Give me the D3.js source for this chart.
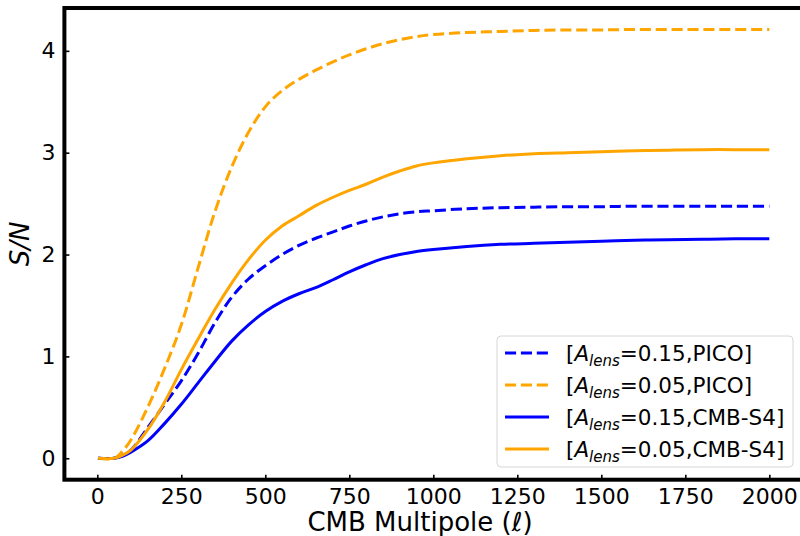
<!DOCTYPE html>
<html>
<head>
<meta charset="utf-8">
<script src="https://cdn.jsdelivr.net/npm/d3@7"></script>
<style>
  html, body { margin: 0; padding: 0; background: #ffffff; }
  svg { display: block; font-family: "DejaVu Sans", sans-serif; }
</style>
</head>
<body>
<svg id="chart" width="800" height="536"></svg>
<script>
// Multipole values at which the cumulative S/N was evaluated
const ell = [2, 50, 75, 100, 150, 200, 250, 300, 350, 400, 450, 500, 550, 600, 650, 700, 750,
             800, 850, 900, 950, 1000, 1100, 1200, 1300, 1400, 1500, 1600, 1700, 1800, 1900, 2000];

// Cumulative S/N for each configuration
const snPico015 = [0, 0, 0.03, 0.08, 0.30, 0.53, 0.76, 1.03, 1.33, 1.58, 1.76, 1.89, 2.00, 2.09, 2.16, 2.22, 2.28,
                   2.33, 2.37, 2.40, 2.42, 2.43, 2.45, 2.46, 2.465, 2.47, 2.47, 2.475, 2.475, 2.475, 2.475, 2.475];
const snPico005 = [0, 0, 0.07, 0.18, 0.50, 0.88, 1.31, 1.87, 2.42, 2.86, 3.20, 3.45, 3.61, 3.72, 3.81, 3.89, 3.96,
                   4.02, 4.07, 4.11, 4.14, 4.16, 4.18, 4.19, 4.20, 4.205, 4.205, 4.21, 4.21, 4.21, 4.21, 4.21];
const snS4015   = [0, 0, 0.02, 0.06, 0.17, 0.34, 0.53, 0.74, 0.95, 1.15, 1.31, 1.44, 1.54, 1.615, 1.675, 1.75, 1.83,
                   1.90, 1.96, 2.00, 2.03, 2.05, 2.08, 2.10, 2.11, 2.12, 2.13, 2.14, 2.145, 2.15, 2.155, 2.155];
const snS4005   = [0, 0, 0.03, 0.08, 0.28, 0.55, 0.87, 1.17, 1.46, 1.72, 1.95, 2.14, 2.28, 2.38, 2.48, 2.56, 2.63,
                   2.69, 2.76, 2.82, 2.87, 2.90, 2.94, 2.97, 2.99, 3.00, 3.01, 3.02, 3.025, 3.03, 3.03, 3.03];

const xTicks = [0, 250, 500, 750, 1000, 1250, 1500, 1750, 2000];
const yTicks = [0, 1, 2, 3, 4];

const seriesNames = ["0.15,PICO]", "0.05,PICO]", "0.15,CMB-S4]", "0.05,CMB-S4]"];
const seriesValues = [snPico015, snPico005, snS4015, snS4005];
const seriesColors = ["#0000ff", "#ffa500", "#0000ff", "#ffa500"];
const seriesDashed = [true, true, false, false];

const svg = d3.select("#chart");

// Data limits with 5% padding on each side
const xMin = 2, xMax = 2000, yMin = 0, yMax = 4.21;
const xPad = (xMax - xMin) * 0.05, yPad = (yMax - yMin) * 0.05;
const x = d3.scaleLinear().domain([xMin - xPad, xMax + xPad]).range([64.4, 802.9]);
const y = d3.scaleLinear().domain([yMin - yPad, yMax + yPad]).range([479.7, 8]);

const x0 = x.range()[0], x1 = x.range()[1];
const y0 = y.range()[0], y1 = y.range()[1];

// Curves
const line = d3.line()
  .x(d => x(d[0]))
  .y(d => y(d[1]))
  .curve(d3.curveCatmullRom.alpha(0.5));

const plot = svg.append("g");
seriesValues.forEach((vals, i) => {
  plot.append("path")
    .datum(ell.map((l, j) => [l, vals[j]]))
    .attr("d", line)
    .attr("fill", "none")
    .attr("stroke", seriesColors[i])
    .attr("stroke-width", 3)
    .attr("stroke-dasharray", seriesDashed[i] ? "11.1,4.8" : null);
});

// Axes with inward ticks
const xAxis = d3.axisBottom(x).tickValues(xTicks).tickSize(-5).tickPadding(9).tickFormat(d3.format("d"));
const yAxis = d3.axisLeft(y).tickValues(yTicks).tickSize(-5).tickPadding(9).tickFormat(d3.format("d"));

const gx = svg.append("g").attr("transform", `translate(0,${y0})`).call(xAxis);
const gy = svg.append("g").attr("transform", `translate(${x0},0)`).call(yAxis);
[gx, gy].forEach(g => {
  g.select(".domain").remove();
  g.selectAll(".tick line").attr("stroke", "#000").attr("stroke-width", 1.6);
  g.selectAll(".tick text")
    .attr("fill", "#000")
    .style("font-family", "DejaVu Sans")
    .style("font-size", "22px");
});
gx.selectAll(".tick text").attr("dy", "0.71em");

// Thick frame
svg.append("rect")
  .attr("x", x0).attr("y", y1)
  .attr("width", x1 - x0).attr("height", y0 - y1)
  .attr("fill", "none")
  .attr("stroke", "#000")
  .attr("stroke-width", 4);

// Axis labels
const xl = svg.append("text")
  .attr("x", 420).attr("y", 531)
  .attr("text-anchor", "middle")
  .style("font-size", "26px");
xl.append("tspan").text("CMB Multipole (");
xl.append("tspan").style("font-style", "italic").text("\u2113");
xl.append("tspan").text(")");

svg.append("text")
  .attr("transform", `translate(29,${(y0 + y1) / 2}) rotate(-90)`)
  .attr("text-anchor", "middle")
  .style("font-size", "26px")
  .style("font-style", "italic")
  .text("S/N");

// Legend
const lg = svg.append("g");
lg.append("rect")
  .attr("x", 497).attr("y", 336)
  .attr("width", 296).attr("height", 131)
  .attr("rx", 4)
  .attr("fill", "#ffffff").attr("fill-opacity", 0.8)
  .attr("stroke", "#d6d6d6").attr("stroke-width", 1);

seriesNames.forEach((name, i) => {
  const cy = 353 + i * 32;
  lg.append("line")
    .attr("x1", 505).attr("x2", 549)
    .attr("y1", cy).attr("y2", cy)
    .attr("stroke", seriesColors[i])
    .attr("stroke-width", 3)
    .attr("stroke-dasharray", seriesDashed[i] ? "11.1,4.8" : null);
  const t = lg.append("text")
    .attr("x", 566).attr("y", cy + 8)
    .style("font-size", "21.5px");
  t.append("tspan").text("[");
  t.append("tspan").style("font-style", "italic").text("A");
  t.append("tspan").style("font-style", "italic").style("font-size", "15px")
    .attr("dy", 5).text("lens");
  t.append("tspan").attr("dy", -5).text("=" + name);
});
</script>
</body>
</html>
